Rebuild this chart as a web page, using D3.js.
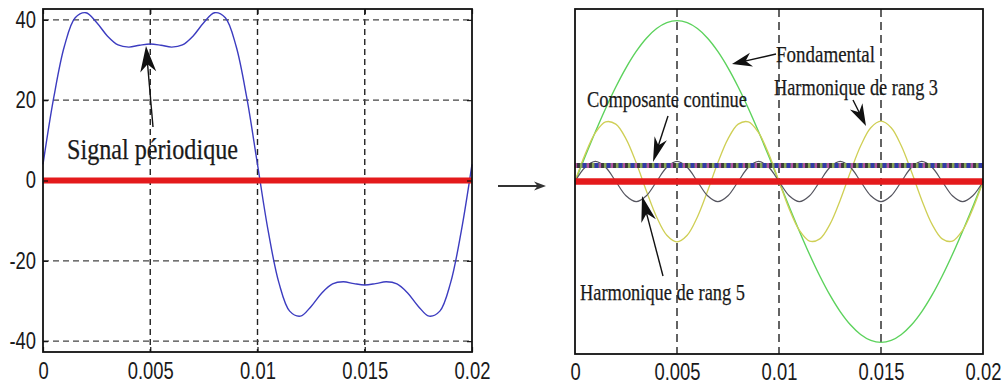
<!DOCTYPE html>
<html><head><meta charset="utf-8">
<script src="https://cdn.jsdelivr.net/npm/d3@7"></script>
<style>body{margin:0;background:#fff}svg{display:block}</style>
</head><body><svg id="c" width="1003" height="389"></svg>
<script>
// ---------- DATA ----------
const time = [0,0.0005,0.001,0.0015,0.002,0.0025,0.003,0.0035,0.004,0.0045,0.005,0.0055,0.006,0.0065,0.007,0.0075,0.008,0.0085,0.009,0.0095,0.01,0.0105,0.011,0.0115,0.012,0.0125,0.013,0.0135,0.014,0.0145,0.015,0.0155,0.016,0.0165,0.017,0.0175,0.018,0.0185,0.019,0.0195,0.02];
const signal = [4,20.61,33.5,40.52,41.78,39.35,36,33.75,33.22,33.68,34,33.68,33.22,33.75,36,39.35,41.78,40.52,33.5,20.61,4,-12.61,-25.5,-32.52,-33.78,-31.35,-28,-25.75,-25.22,-25.68,-26,-25.68,-25.22,-25.75,-28,-31.35,-33.78,-32.52,-25.5,-12.61,4];
const fundamental = [0,6.26,12.36,18.16,23.51,28.28,32.36,35.64,38.04,39.51,40,39.51,38.04,35.64,32.36,28.28,23.51,18.16,12.36,6.26,0,-6.26,-12.36,-18.16,-23.51,-28.28,-32.36,-35.64,-38.04,-39.51,-40,-39.51,-38.04,-35.64,-32.36,-28.28,-23.51,-18.16,-12.36,-6.26,0];
const harmonic3 = [0,6.81,12.14,14.82,14.27,10.61,4.64,-2.35,-8.82,-13.37,-15,-13.37,-8.82,-2.35,4.64,10.61,14.27,14.82,12.14,6.81,0,-6.81,-12.14,-14.82,-14.27,-10.61,-4.64,2.35,8.82,13.37,15,13.37,8.82,2.35,-4.64,-10.61,-14.27,-14.82,-12.14,-6.81,0];
const harmonic5 = [0,3.54,5,3.54,0,-3.54,-5,-3.54,0,3.54,5,3.54,0,-3.54,-5,-3.54,0,3.54,5,3.54,0,-3.54,-5,-3.54,0,3.54,5,3.54,0,-3.54,-5,-3.54,0,3.54,5,3.54,0,-3.54,-5,-3.54,0];
const lineTime = [0,0.02];
const dcComponent = [4,4];
const zeroLine = [0,0];
const xTicks = [0,0.005,0.01,0.015,0.02];
const xTickLabels = ["0","0.005","0.01","0.015","0.02"];
const yTicks = [-40,-20,0,20,40];
const yTickLabels = ["-40","-20","0","20","40"];
const yDomainLeft = [-42.7,42.7];
const yDomainRight = [-42.9,42.9];
const labelSignal = "Signal périodique";
const labelFond = "Fondamental";
const labelH3 = "Harmonique de rang 3";
const labelDC = "Composante continue";
const labelH5 = "Harmonique de rang 5";

// ---------- LAYOUT ----------
const svg = d3.select("#c");
const tickFont = "'Liberation Sans','Arial',sans-serif";
const annFont = "'Liberation Serif','Times New Roman',serif";
const SQ = 0.8; // horizontal squeeze of the tick font

const L = {x0:43, x1:472, y0:9, y1:352};
const R = {x0:575, x1:983, y0:9, y1:354};

const xL = d3.scaleLinear().domain([0,0.02]).range([L.x0,L.x1]);
const yL = d3.scaleLinear().domain(yDomainLeft).range([L.y1,L.y0]);
const xR = d3.scaleLinear().domain([0,0.02]).range([R.x0,R.x1]);
const yR = d3.scaleLinear().domain(yDomainRight).range([R.y1,R.y0]);

function series(xs, ys, xv, yv){ return xv.map((t,i)=>[xs(t), ys(yv[i])]); }
const smooth = d3.line().curve(d3.curveCatmullRom.alpha(0.5));
const straight = d3.line();

function styleTicks(a){
  a.selectAll("text").attr("font-family",tickFont).attr("font-size",23).attr("fill","#1a1a1a")
    .each(function(){
      const s=d3.select(this);
      const x=+(s.attr("x")||0);
      s.attr("x",x/SQ).attr("transform",`scale(${SQ},1)`);
    });
}

// ---- LEFT PANEL ----
const gL = svg.append("g");
gL.selectAll(".vg").data(xTicks.slice(1,-1)).join("line")
  .attr("x1",d=>xL(d)).attr("x2",d=>xL(d)).attr("y1",L.y0).attr("y2",L.y1)
  .attr("stroke","#222").attr("stroke-width",1.4).attr("stroke-dasharray","6,4");
gL.selectAll(".hg").data(yTicks).join("line")
  .attr("x1",L.x0).attr("x2",L.x1).attr("y1",d=>yL(d)).attr("y2",d=>yL(d))
  .attr("stroke","#444").attr("stroke-width",1.4).attr("stroke-dasharray","6,4");
gL.append("path").attr("d",smooth(series(xL,yL,time,signal)))
  .attr("fill","none").attr("stroke","#3c3cc0").attr("stroke-width",1.4);
gL.append("path").attr("d",straight(series(xL,yL,lineTime,zeroLine)))
  .attr("fill","none").attr("stroke","#e41a1c").attr("stroke-width",6);
const axBL = gL.append("g").attr("transform",`translate(0,${L.y1})`)
  .call(d3.axisBottom(xL).tickValues(xTicks).tickFormat((d,i)=>xTickLabels[i]).tickSize(-5).tickPadding(11));
const axTL = gL.append("g").attr("transform",`translate(0,${L.y0})`)
  .call(d3.axisTop(xL).tickValues(xTicks).tickFormat("").tickSize(-5));
const axLL = gL.append("g").attr("transform",`translate(${L.x0},0)`)
  .call(d3.axisLeft(yL).tickValues(yTicks).tickFormat((d,i)=>yTickLabels[i]).tickSize(-5).tickPadding(7));
const axRL = gL.append("g").attr("transform",`translate(${L.x1},0)`)
  .call(d3.axisRight(yL).tickValues(yTicks).tickFormat("").tickSize(-5));
[axBL,axTL,axLL,axRL].forEach(a=>{
  a.select(".domain").remove();
  a.selectAll(".tick line").attr("stroke","#111").attr("stroke-width",1.2);
  styleTicks(a);
});
gL.append("rect").attr("x",L.x0).attr("y",L.y0).attr("width",L.x1-L.x0).attr("height",L.y1-L.y0)
  .attr("fill","none").attr("stroke","#111").attr("stroke-width",1.8);

// ---- RIGHT PANEL ----
const gR = svg.append("g");
gR.selectAll(".vg").data(xTicks.slice(1,-1)).join("line")
  .attr("x1",d=>xR(d)).attr("x2",d=>xR(d)).attr("y1",R.y0).attr("y2",R.y1)
  .attr("stroke","#222").attr("stroke-width",1.4).attr("stroke-dasharray","8,5");
gR.append("path").attr("d",smooth(series(xR,yR,time,fundamental)))
  .attr("fill","none").attr("stroke","#5cd25c").attr("stroke-width",1.4);
gR.append("path").attr("d",smooth(series(xR,yR,time,harmonic3)))
  .attr("fill","none").attr("stroke","#cfcf55").attr("stroke-width",1.3);
gR.append("path").attr("d",smooth(series(xR,yR,time,harmonic5)))
  .attr("fill","none").attr("stroke","#55555f").attr("stroke-width",1.2);
const dcPath = straight(series(xR,yR,lineTime,dcComponent));
gR.append("path").attr("d",dcPath).attr("fill","none").attr("stroke","#5a6878").attr("stroke-width",5);
[["#c050a8",0],["#2a34b0",4],["#8fb050",8],["#333",10]].forEach(([c,o])=>{
  gR.append("path").attr("d",dcPath).attr("fill","none").attr("stroke",c)
    .attr("stroke-width",5).attr("stroke-dasharray","3,9").attr("stroke-dashoffset",o).attr("opacity",0.85);
});
gR.append("path").attr("d",straight(series(xR,yR,lineTime,zeroLine)))
  .attr("fill","none").attr("stroke","#e41a1c").attr("stroke-width",6.5);
const axBR = gR.append("g").attr("transform",`translate(0,${R.y1})`)
  .call(d3.axisBottom(xR).tickValues(xTicks).tickFormat((d,i)=>xTickLabels[i]).tickSize(0).tickPadding(10));
axBR.select(".domain").remove();
styleTicks(axBR);
gR.append("rect").attr("x",R.x0).attr("y",R.y0).attr("width",R.x1-R.x0).attr("height",R.y1-R.y0)
  .attr("fill","none").attr("stroke","#111").attr("stroke-width",1.8);

// ---- ANNOTATIONS ----
function arrow(g, x0,y0,x1,y1, len, wid, color, lw){
  const dx=x1-x0, dy=y1-y0, d=Math.hypot(dx,dy), ux=dx/d, uy=dy/d, nx=-uy, ny=ux;
  g.append("line").attr("x1",x0).attr("y1",y0).attr("x2",x1-ux*len*0.6).attr("y2",y1-uy*len*0.6)
    .attr("stroke",color).attr("stroke-width",lw);
  const pts=[[x1,y1],[x1-ux*len+nx*wid/2,y1-uy*len+ny*wid/2],[x1-ux*len*0.7,y1-uy*len*0.7],[x1-ux*len-nx*wid/2,y1-uy*len-ny*wid/2]];
  g.append("polygon").attr("points",pts.map(p=>p.join(",")).join(" ")).attr("fill",color);
}
function label(txt,x,y,size,len){
  svg.append("text").attr("x",x).attr("y",y).attr("font-family",annFont).attr("font-size",size)
    .attr("fill","#1a1a1a").attr("stroke","#1a1a1a").attr("stroke-width",0.25)
    .attr("textLength",len).attr("lengthAdjust","spacingAndGlyphs").text(txt);
}
const ga = svg.append("g");
label(labelSignal,67,159,29,171);
arrow(ga,153,127,146,46,26,16,"#111",1.4);
label(labelFond,776,62,24,99);
arrow(ga,776,54,732,64,20,14,"#111",1.4);
label(labelH3,774,95,24,164);
arrow(ga,853,100,866,126,22,14,"#111",1.4);
label(labelDC,587,107,24,160);
arrow(ga,668,116,653,162,25,13,"#111",1.4);
label(labelH5,580,300,24,165);
arrow(ga,663,276,642,196,26,15,"#111",1.4);
arrow(ga,498,186,546,186,12,9,"#333",2);
</script></body></html>
